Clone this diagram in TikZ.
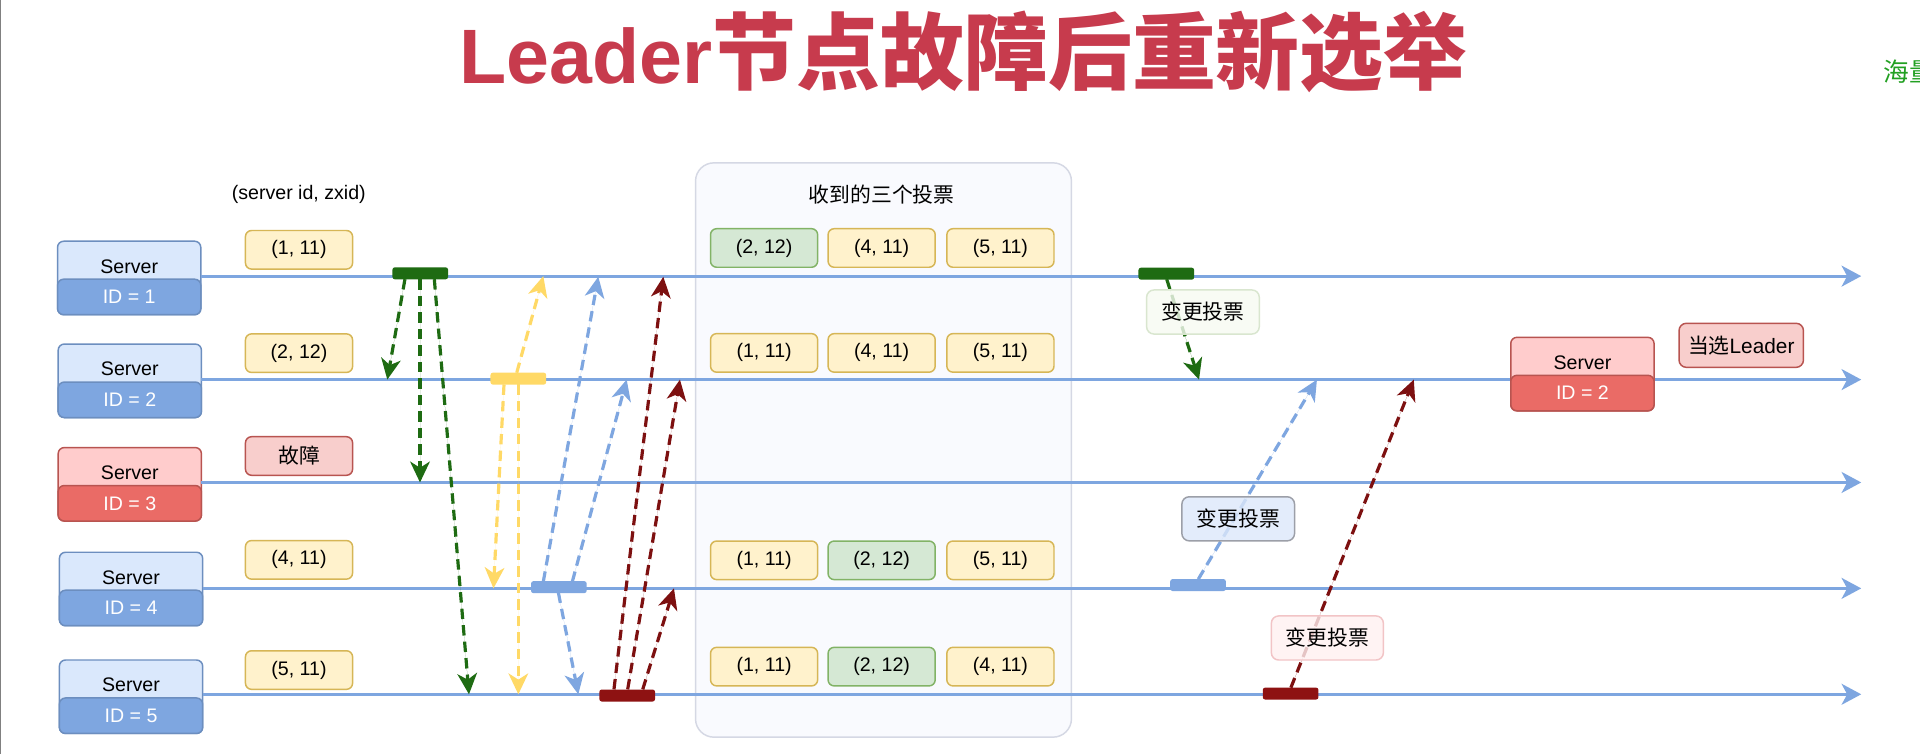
\documentclass[tikz,border=0pt]{standalone}
\usepackage{fontspec}
\setmainfont{Liberation Sans}
\newfontfamily\cjk{Noto Sans CJK SC}
\usetikzlibrary{arrows.meta}
\definecolor{lineblue}{HTML}{7EA6E0}
\definecolor{boxblue}{HTML}{DAE8FC}
\definecolor{bordblue}{HTML}{6C8EBF}
\definecolor{boxred}{HTML}{FFCCCC}
\definecolor{idred}{HTML}{EA6B66}
\definecolor{bordred}{HTML}{B85450}
\definecolor{voteyel}{HTML}{FFF2CC}
\definecolor{bordyel}{HTML}{D6B656}
\definecolor{votegrn}{HTML}{D5E8D4}
\definecolor{bordgrn}{HTML}{82B366}
\definecolor{faultfill}{HTML}{F8CECC}
\definecolor{darkgrn}{HTML}{1E6B12}
\definecolor{barred}{HTML}{8E1212}
\definecolor{arrred}{HTML}{7D1010}
\definecolor{yel}{HTML}{FFD966}
\definecolor{titlered}{HTML}{C73B4D}
\definecolor{panelfill}{HTML}{F9FAFE}
\definecolor{panelbord}{HTML}{D5D8E4}
\definecolor{haigreen}{HTML}{22A022}
\definecolor{lgfill}{HTML}{F7FBF2}
\definecolor{lgbord}{HTML}{D9E6CF}
\definecolor{lbfill}{HTML}{DCE8FA}
\definecolor{lbbord}{HTML}{9C9FA8}
\definecolor{lrfill}{HTML}{FFF1F1}
\definecolor{lrbord}{HTML}{F2C4C6}
\begin{document}
\begin{tikzpicture}[x=1pt,y=-1pt,
  every node/.style={inner sep=0pt, outer sep=0pt},
  tl/.style={line width=2.5pt, draw=lineblue, -{Stealth[length=16pt,width=17pt,inset=4.5pt]}},
  srvbox/.style={draw=bordblue, fill=boxblue, line width=1.2pt, rounded corners=5pt, minimum width=117pt, minimum height=60pt},
  srvid/.style={draw=bordblue, fill=lineblue, line width=1.2pt, rounded corners=5pt, minimum width=117pt, minimum height=29pt, text=white, font=\fontsize{16}{18}\selectfont},
  srvtxt/.style={font=\fontsize{16}{18}\selectfont},
  redsrv/.style={draw=bordred, fill=boxred},
  redid/.style={draw=bordred, fill=idred},
  vote/.style={draw=bordyel, fill=voteyel, line width=1.2pt, rounded corners=5pt, minimum width=87.5pt, minimum height=31.5pt, font=\fontsize{16}{18}\selectfont},
  vgreen/.style={vote, draw=bordgrn, fill=votegrn},
  fault/.style={vote, draw=bordred, fill=faultfill, font=\cjk\fontsize{17}{19}\selectfont},
  bar/.style={rounded corners=2pt, minimum width=45.5pt, minimum height=9.8pt},
  msg/.style={line width=2.6pt, dash pattern=on 8.5pt off 5pt, -{Stealth[length=17pt,width=16pt,inset=5pt]}},
  lbl/.style={rounded corners=6pt, line width=1.2pt, minimum width=92pt, minimum height=36pt, fill opacity=0.8, text opacity=1, font=\cjk\fontsize{17}{19}\selectfont},
]
\useasboundingbox (0,0) rectangle (1568,616);
\fill[white] (0,0) rectangle (1568,616);
\draw[gray, line width=1.2pt] (0.6,0) -- (0.6,616);

% title
\node[anchor=base, text=titlered] (title) at (787,68)
  {\fontsize{63}{66}\selectfont\bfseries Leader{\cjk\fontsize{68.5}{72}\selectfont\bfseries 节点故障后重新选举}};
\node[anchor=west, text=haigreen, font=\cjk\fontsize{21}{23}\selectfont] (hai) at (1538,58.8) {海量};

% panel
\node[draw=panelbord, fill=panelfill, line width=1.2pt, rounded corners=15pt, minimum width=307pt, minimum height=469pt] (panel) at (721.5,367.5) {};
\node[font=\cjk\fontsize{17}{19}\selectfont] (paneltitle) at (720,159) {收到的三个投票};
\node[font=\fontsize{16}{18}\selectfont] (legend) at (244,159) {(server id, zxid)};

% timeline ends
\coordinate (e1) at (1520,225.5);
\coordinate (e2) at (1520,310);
\coordinate (e3) at (1520,394);
\coordinate (e4) at (1520,480.5);
\coordinate (e5) at (1520,567);

% server boxes
\node[srvbox] (s1) at (105.5,227) {};
\node[srvbox] (s2) at (106,311) {};
\node[srvbox, redsrv] (s3) at (106,395.5) {};
\node[srvbox] (s4) at (107,481) {};
\node[srvbox] (s5) at (107,569) {};

\draw[tl] (s1.east |- e1) -- (e1);
\draw[tl] (s2.east |- e2) -- (e2);
\draw[tl] (s3.east |- e3) -- (e3);
\draw[tl] (s4.east |- e4) -- (e4);
\draw[tl] (s5.east |- e5) -- (e5);

\node[srvid] (s1id) at (105.5,242.5) {ID = 1};
\node[srvid] (s2id) at (106,326.5) {ID = 2};
\node[srvid, redid] (s3id) at (106,411) {ID = 3};
\node[srvid] (s4id) at (107,496.5) {ID = 4};
\node[srvid] (s5id) at (107,584.5) {ID = 5};
\node[srvtxt] (s1t) at (105.5,217.5) {Server};
\node[srvtxt] (s2t) at (106,301.5) {Server};
\node[srvtxt] (s3t) at (106,386) {Server};
\node[srvtxt] (s4t) at (107,471.5) {Server};
\node[srvtxt] (s5t) at (107,559.5) {Server};

% leader box
\node[srvbox, redsrv] (ld) at (1292.3,305.5) {};
\node[srvid, redid] (ldid) at (1292.3,321) {ID = 2};
\node[srvtxt] (ldt) at (1292.3,296) {Server};
\node[lbl, draw=bordred, fill=faultfill, fill opacity=1, minimum width=101.6pt, font=\fontsize{17}{19}\selectfont] (won) at (1422,282) {{\cjk 当选}Leader};

% own votes
\node[vote] (v1) at (244.2,204) {(1, 11)};
\node[vote] (v2) at (244.2,288.4) {(2, 12)};
\node[fault] (v3) at (244.2,372.4) {故障};
\node[vote] (v4) at (244.2,457.2) {(4, 11)};
\node[vote] (v5) at (244.2,547.2) {(5, 11)};

% received votes
\node[vgreen] (p11) at (624,202.5) {(2, 12)};
\node[vote] (p12) at (720,202.5) {(4, 11)};
\node[vote] (p13) at (817,202.5) {(5, 11)};
\node[vote] (p21) at (624,288.2) {(1, 11)};
\node[vote] (p22) at (720,288.2) {(4, 11)};
\node[vote] (p23) at (817,288.2) {(5, 11)};
\node[vote] (p41) at (624,457.6) {(1, 11)};
\node[vgreen] (p42) at (720,457.6) {(2, 12)};
\node[vote] (p43) at (817,457.6) {(5, 11)};
\node[vote] (p51) at (624,544.4) {(1, 11)};
\node[vgreen] (p52) at (720,544.4) {(2, 12)};
\node[vote] (p53) at (817,544.4) {(4, 11)};

% bars
\node[bar, fill=darkgrn] (g1) at (343.2,223.2) {};
\node[bar, fill=yel] (y1) at (423.3,309.2) {};
\node[bar, fill=lineblue] (b1) at (456.4,479.5) {};
\node[bar, fill=barred] (r1) at (512.2,568) {};
\node[bar, fill=darkgrn] (g2) at (952.5,223.5) {};
\node[bar, fill=lineblue] (b2) at (978.4,477.8) {};
\node[bar, fill=barred] (r2) at (1054,566.4) {};

% message coordinates
\coordinate (ga0) at (330.7,228); \coordinate (ga1) at (316.3,310);
\coordinate (gb0) at (343,228);   \coordinate (gb1) at (343,394);
\coordinate (gc0) at (354.7,228); \coordinate (gc1) at (383,567);
\coordinate (ya0) at (422,304.4); \coordinate (ya1) at (443.7,225.5);
\coordinate (yb0) at (411.6,314); \coordinate (yb1) at (403,480.5);
\coordinate (yc0) at (423.3,314); \coordinate (yc1) at (423.3,567);
\coordinate (ba0) at (443.7,475); \coordinate (ba1) at (488.6,226);
\coordinate (bb0) at (467.4,475); \coordinate (bb1) at (511.8,310);
\coordinate (bc0) at (456,484);   \coordinate (bc1) at (472.3,567);
\coordinate (ra0) at (501.4,563); \coordinate (ra1) at (541.7,226);
\coordinate (rb0) at (512.6,563); \coordinate (rb1) at (555.3,310);
\coordinate (rc0) at (524.9,563); \coordinate (rc1) at (550.4,480.5);
\coordinate (g2a0) at (952.8,228); \coordinate (g2a1) at (979.2,310);
\coordinate (b2a0) at (978.6,473); \coordinate (b2a1) at (1075.5,310);
\coordinate (r2a0) at (1054.2,561.6); \coordinate (r2a1) at (1154.6,310);

\draw[msg, draw=darkgrn, fill=darkgrn] (ga0) -- (ga1);
\draw[msg, draw=darkgrn, fill=darkgrn] (gb0) -- (gb1);
\draw[msg, draw=darkgrn, fill=darkgrn] (gc0) -- (gc1);
\draw[msg, draw=yel, fill=yel] (ya0) -- (ya1);
\draw[msg, draw=yel, fill=yel] (yb0) -- (yb1);
\draw[msg, draw=yel, fill=yel] (yc0) -- (yc1);
\draw[msg, draw=lineblue, fill=lineblue] (ba0) -- (ba1);
\draw[msg, draw=lineblue, fill=lineblue] (bb0) -- (bb1);
\draw[msg, draw=lineblue, fill=lineblue] (bc0) -- (bc1);
\draw[msg, draw=arrred, fill=arrred] (ra0) -- (ra1);
\draw[msg, draw=arrred, fill=arrred] (rb0) -- (rb1);
\draw[msg, draw=arrred, fill=arrred] (rc0) -- (rc1);
\draw[msg, draw=darkgrn, fill=darkgrn] (g2a0) -- (g2a1);
\draw[msg, draw=lineblue, fill=lineblue] (b2a0) -- (b2a1);
\draw[msg, draw=arrred, fill=arrred] (r2a0) -- (r2a1);

% labels
\node[lbl, draw=lgbord, fill=lgfill] (lg) at (982.4,254.8) {变更投票};
\node[lbl, draw=lbbord, fill=lbfill] (lb) at (1011.2,423.7) {变更投票};
\node[lbl, draw=lrbord, fill=lrfill, minimum width=91.5pt] (lr) at (1084,521) {变更投票};
\end{tikzpicture}
\end{document}
